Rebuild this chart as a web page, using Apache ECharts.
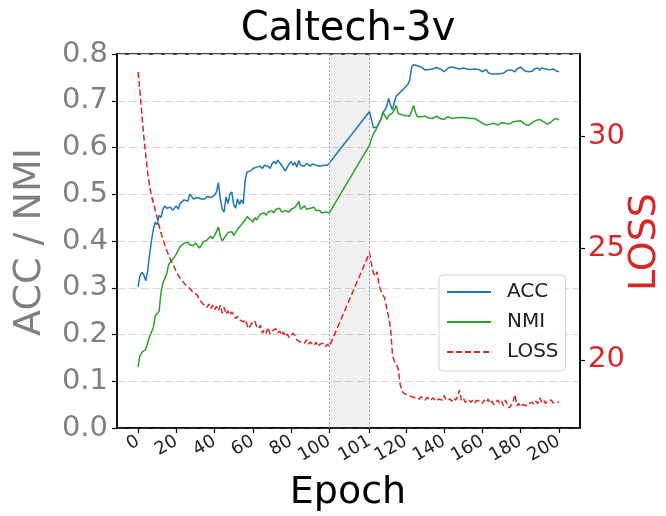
<!DOCTYPE html>
<html>
<head>
<meta charset="utf-8">
<script src="https://cdn.jsdelivr.net/npm/echarts@6/dist/echarts.min.js"></script>
<style>html,body{margin:0;padding:0;background:#fff}#c{width:666px;height:516px}</style>
</head>
<body>
<div id="c"></div>
<script>
// ---- data ----
const tickEpochs = [0, 20, 40, 60, 80, 100, 101, 120, 140, 160, 180, 200];
const tickLabels = ['0', '20', '40', '60', '80', '100', '101', '120', '140', '160', '180', '200'];
const lossTicks = [20, 25, 30];

// epochs 0..100
const accPre = [
  0.302, 0.325, 0.333, 0.328, 0.315, 0.335, 0.37, 0.40, 0.425, 0.44,
  0.435, 0.455, 0.45, 0.468, 0.475, 0.47, 0.468, 0.472, 0.466, 0.47,
  0.475, 0.468, 0.48, 0.478, 0.488, 0.49, 0.485, 0.5, 0.495, 0.49,
  0.487, 0.493, 0.495, 0.49, 0.494, 0.49, 0.495, 0.498, 0.493, 0.497,
  0.498, 0.505, 0.525, 0.49, 0.468, 0.462, 0.495, 0.48, 0.5, 0.505,
  0.478, 0.47, 0.49, 0.478, 0.488, 0.48, 0.53, 0.548, 0.552, 0.55,
  0.555, 0.552, 0.558, 0.555, 0.56, 0.555, 0.562, 0.558, 0.56, 0.555,
  0.565, 0.57, 0.565, 0.573, 0.568, 0.562, 0.56, 0.55, 0.558, 0.565,
  0.57, 0.562, 0.568, 0.558, 0.572, 0.562, 0.565, 0.56, 0.566, 0.562,
  0.56, 0.565, 0.568, 0.562, 0.565, 0.56, 0.558, 0.562, 0.558, 0.562,
  0.567
];
const nmiPre = [
  0.131, 0.155, 0.162, 0.165, 0.168, 0.172, 0.195, 0.205, 0.215, 0.24,
  0.245, 0.25, 0.29, 0.31, 0.32, 0.33, 0.35, 0.355, 0.36, 0.358,
  0.372, 0.38, 0.388, 0.39, 0.395, 0.393, 0.398, 0.392, 0.395, 0.39,
  0.396, 0.392, 0.385, 0.39, 0.398, 0.4, 0.402, 0.405, 0.41, 0.405,
  0.412, 0.42, 0.43, 0.41, 0.4, 0.398, 0.412, 0.418, 0.415, 0.42,
  0.412, 0.41, 0.425, 0.428, 0.435, 0.44, 0.445, 0.452, 0.455, 0.445,
  0.44, 0.45, 0.445, 0.452, 0.458, 0.455, 0.46, 0.455, 0.462, 0.458,
  0.465, 0.46, 0.468, 0.465, 0.47, 0.462, 0.458, 0.465, 0.468, 0.462,
  0.468, 0.465, 0.472, 0.478, 0.485, 0.468, 0.47, 0.475, 0.468, 0.472,
  0.47, 0.468, 0.472, 0.465, 0.468, 0.465, 0.46, 0.458, 0.462, 0.46,
  0.46
];
const lossPre = [
  32.9, 32.0, 31.0, 30.0, 29.2, 28.4, 27.8, 27.35, 27.05, 26.7,
  26.35, 26.0, 25.7, 25.4, 25.15, 24.9, 24.7, 24.5, 24.3, 24.15,
  23.95, 23.8, 23.65, 23.55, 23.45, 23.35, 23.3, 23.2, 23.15, 23.0,
  22.95, 22.9, 22.7, 22.65, 22.5, 22.55, 22.35, 22.5, 22.3, 22.45,
  22.25, 22.4, 22.2, 22.45, 22.1, 22.35, 22.05, 22.2, 22.0, 22.15,
  22.0, 21.85, 21.95, 21.8, 21.75, 21.7, 21.8, 21.55, 21.4, 21.6,
  21.55, 21.75, 21.5, 21.4, 21.55, 21.2, 21.35, 21.2, 21.45, 21.15,
  21.3, 21.25, 21.4, 21.2, 21.3, 21.1, 21.25, 21.05, 21.15, 21.0,
  21.05, 21.2, 21.1, 20.9, 20.95, 20.8, 20.85, 20.75, 20.9, 20.7,
  20.8, 20.75, 20.65, 20.8, 20.6, 20.7, 20.65, 20.75, 20.6, 20.7,
  20.6
];
// epochs 101..200
const accPost = [
  0.677, 0.66, 0.642, 0.64, 0.645, 0.648, 0.662, 0.675, 0.68, 0.688,
  0.705, 0.69, 0.68, 0.698, 0.71, 0.712, 0.718, 0.722, 0.726, 0.73,
  0.735, 0.744, 0.772, 0.777, 0.776, 0.775, 0.774, 0.772, 0.768, 0.766,
  0.765, 0.767, 0.766, 0.768, 0.765, 0.771, 0.773, 0.768, 0.765, 0.762,
  0.765, 0.77, 0.768, 0.772, 0.773, 0.77, 0.773, 0.768, 0.766, 0.77,
  0.772, 0.768, 0.765, 0.767, 0.77, 0.768, 0.765, 0.767, 0.764, 0.762,
  0.765, 0.767, 0.76, 0.758, 0.757, 0.759, 0.757, 0.76, 0.758, 0.761,
  0.759, 0.762, 0.765, 0.762, 0.766, 0.764, 0.762, 0.768, 0.766, 0.772,
  0.77, 0.764, 0.76, 0.762, 0.765, 0.763, 0.768, 0.772, 0.77, 0.765,
  0.77, 0.773, 0.768, 0.765, 0.766, 0.764, 0.768, 0.765, 0.763, 0.762
];
const nmiPost = [
  0.605, 0.618, 0.63, 0.635, 0.645, 0.652, 0.66, 0.675, 0.668, 0.66,
  0.668, 0.672, 0.674, 0.68, 0.69, 0.672, 0.668, 0.67, 0.666, 0.668,
  0.665, 0.667, 0.668, 0.69, 0.675, 0.666, 0.665, 0.666, 0.664, 0.667,
  0.665, 0.663, 0.666, 0.662, 0.663, 0.667, 0.664, 0.662, 0.665, 0.66,
  0.662, 0.666, 0.664, 0.662, 0.665, 0.663, 0.661, 0.664, 0.662, 0.664,
  0.661, 0.663, 0.66, 0.662, 0.664, 0.662, 0.66, 0.657, 0.655, 0.652,
  0.65, 0.648, 0.647, 0.65, 0.648, 0.652, 0.65, 0.648, 0.651, 0.653,
  0.65, 0.652, 0.654, 0.65, 0.652, 0.655, 0.653, 0.656, 0.654, 0.657,
  0.655, 0.65, 0.648, 0.647, 0.65, 0.653, 0.656, 0.658, 0.657, 0.66,
  0.659, 0.655, 0.652, 0.65, 0.651, 0.655, 0.658, 0.662, 0.663, 0.659
];
const lossPost = [
  24.8, 24.3, 23.9, 23.75, 23.95, 23.3, 23.1, 22.9, 22.75, 22.3,
  21.9, 21.4, 20.2, 19.95, 19.8, 19.6, 18.9, 18.6, 18.5, 18.45,
  18.42, 18.5, 18.35, 18.4, 18.3, 18.38, 18.25, 18.35, 18.3, 18.2,
  18.32, 18.25, 18.18, 18.3, 18.28, 18.15, 18.25, 18.3, 18.2, 18.4,
  18.2, 18.12, 18.25, 18.15, 18.3, 18.2, 18.35, 18.65, 18.2, 18.3,
  18.1, 18.15, 18.22, 18.1, 18.2, 18.08, 18.18, 18.25, 18.15, 18.05,
  18.2, 18.1, 18.25, 18.05, 18.15, 18.0, 18.1, 18.2, 18.05, 18.15,
  17.95, 18.2, 18.0, 17.85, 17.9, 18.1, 18.45, 17.95, 18.05, 17.9,
  18.0, 18.02, 17.95, 18.05, 18.0, 18.1, 18.0, 18.15, 18.05, 18.3,
  18.1, 18.2, 18.05, 18.15, 18.1, 18.2, 18.08, 18.15, 18.1, 18.1
];

// ---- axis mapping (expanded gap between epoch 100 and 101) ----
const lastPre = 100, firstPost = 101, gapShift = 20;
function pos(e) { return e <= lastPre ? e : e + gapShift; }
function build(pre, post) {
  const out = [];
  pre.forEach((v, i) => out.push([pos(i), v]));
  post.forEach((v, j) => out.push([pos(firstPost + j), v]));
  return out;
}
const tickPos = tickEpochs.map(pos);
const labelByPos = {};
tickPos.forEach((p, i) => { labelByPos[p] = tickLabels[i]; });
const span = pos(200) - pos(0);
const xMin = -0.05 * span, xMax = pos(200) + 0.05 * span;

const FONT = 'DejaVu Sans';
const chart = echarts.init(document.getElementById('c'), null, { renderer: 'canvas' });
chart.setOption({
  animation: false,
  backgroundColor: '#ffffff',
  textStyle: { fontFamily: FONT },
  grid: { left: 117, right: 86, top: 54, bottom: 88, show: true, borderColor: '#000', borderWidth: 1.5, backgroundColor: 'transparent', containLabel: false },
  legend: {
    left: 439, top: 275, orient: 'vertical',
    data: ['ACC', 'NMI', 'LOSS'],
    itemWidth: 44, itemHeight: 14, itemGap: 10,
    padding: [7, 7, 9, 7],
    borderColor: '#d4d4d4', borderWidth: 1, borderRadius: 4,
    backgroundColor: 'rgba(255,255,255,0.8)',
    itemStyle: { color: 'rgba(0,0,0,0)', borderWidth: 0, borderColor: 'rgba(0,0,0,0)', opacity: 0 },
    textStyle: { fontFamily: FONT, fontSize: 20, color: '#222', lineHeight: 20, padding: [0, 0, 0, 11] }
  },
  xAxis: {
    type: 'value', min: xMin, max: xMax,
    axisLine: { show: true, onZero: false, lineStyle: { color: '#000', width: 1.5 } },
    axisTick: { show: true, inside: false, length: 5, customValues: tickPos, lineStyle: { color: '#000', width: 1.2 } },
    axisLabel: {
      customValues: tickPos, rotate: 30, margin: 12, fontSize: 18, color: '#222', fontFamily: FONT,
      formatter: v => labelByPos[v] !== undefined ? labelByPos[v] : ''
    },
    splitLine: { show: false }
  },
  yAxis: [
    {
      type: 'value', min: 0, max: 0.8, interval: 0.1, position: 'left',
      axisLine: { show: true, onZero: false, lineStyle: { color: '#000', width: 1.5 } },
      axisTick: { show: true, inside: false, length: 5, lineStyle: { color: '#000', width: 1.2 } },
      axisLabel: { margin: 9, fontSize: 29, color: '#808080', fontFamily: FONT, formatter: v => v.toFixed(1) },
      splitLine: { show: true, lineStyle: { color: '#d6d6d6', width: 1, type: [8, 4] } }
    },
    {
      type: 'value', min: 16.95, max: 33.7, position: 'right',
      axisLine: { show: true, onZero: false, lineStyle: { color: '#000', width: 1.5 } },
      axisTick: { show: true, inside: false, length: 5, customValues: lossTicks, lineStyle: { color: '#000', width: 1.2 } },
      axisLabel: { customValues: lossTicks, margin: 8, fontSize: 29, color: '#d62728', fontFamily: FONT },
      splitLine: { show: false }
    }
  ],
  series: [
    {
      name: 'ACC', type: 'line', yAxisIndex: 0, data: build(accPre, accPost),
      symbol: 'none', showSymbol: false, lineStyle: { color: '#1f77b4', width: 1.5 }, itemStyle: { color: '#1f77b4' },
      z: 3,
      markArea: {
        silent: true, itemStyle: { color: 'rgba(128,128,128,0.12)' },
        data: [[{ xAxis: pos(lastPre) }, { xAxis: pos(firstPost) }]]
      },
      markLine: {
        silent: true, symbol: 'none', label: { show: false },
        lineStyle: { color: '#a0a0a0', width: 1, type: [2, 2] },
        data: [{ xAxis: pos(lastPre) }, { xAxis: pos(firstPost) }]
      }
    },
    {
      name: 'NMI', type: 'line', yAxisIndex: 0, data: build(nmiPre, nmiPost),
      symbol: 'none', showSymbol: false, lineStyle: { color: '#2ca02c', width: 1.5 }, itemStyle: { color: '#2ca02c' }, z: 3
    },
    {
      name: 'LOSS', type: 'line', yAxisIndex: 1, data: build(lossPre, lossPost),
      symbol: 'none', showSymbol: false, lineStyle: { color: '#d62728', width: 1.5, type: [6, 3] }, itemStyle: { color: '#d62728' }, z: 4
    }
  ],
  graphic: [
    { type: 'text', x: 348, y: 30, style: { text: 'Caltech-3v', font: '40px "DejaVu Sans"', fill: '#000', align: 'center', verticalAlign: 'middle', textAlign: 'center', textVerticalAlign: 'middle' } },
    { type: 'text', x: 348, y: 493, style: { text: 'Epoch', font: '38px "DejaVu Sans"', fill: '#000', align: 'center', verticalAlign: 'middle', textAlign: 'center', textVerticalAlign: 'middle' } },
    { type: 'text', x: 30, y: 242, rotation: Math.PI / 2, style: { text: 'ACC / NMI', font: '38px "DejaVu Sans"', fill: '#808080', align: 'center', verticalAlign: 'middle', textAlign: 'center', textVerticalAlign: 'middle' } },
    { type: 'text', x: 645, y: 242, rotation: Math.PI / 2, style: { text: 'LOSS', font: '38px "DejaVu Sans"', fill: '#d62728', align: 'center', verticalAlign: 'middle', textAlign: 'center', textVerticalAlign: 'middle' } }
  ]
});
</script>
</body>
</html>
